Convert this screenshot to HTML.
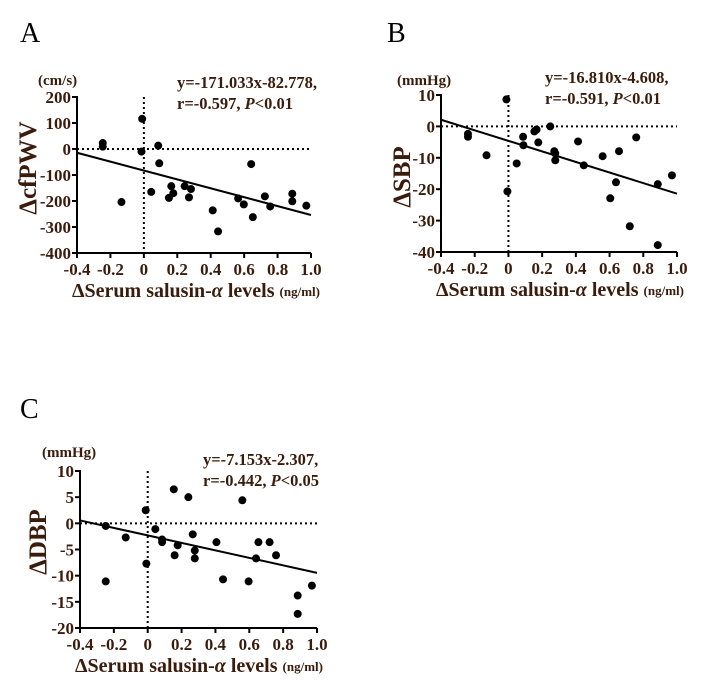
<!DOCTYPE html>
<html><head><meta charset="utf-8"><style>
body{margin:0;background:#fff;width:722px;height:692px;overflow:hidden}
svg text{font-family:"Liberation Serif",serif;font-weight:bold;fill:#3a1c0c}
</style></head><body>
<svg id="fig" width="722" height="692" xmlns="http://www.w3.org/2000/svg"></svg>
<script>
const xTicks=[-0.4,-0.2,0,0.2,0.4,0.6,0.8,1.0];
const xTickLabels=["-0.4","-0.2","0","0.2","0.4","0.6","0.8","1.0"];
const aX=[-0.246,-0.246,-0.01,-0.014,0.086,0.092,-0.134,0.044,0.164,0.176,0.15,0.244,0.282,0.27,0.412,0.444,0.564,0.598,0.642,0.652,0.724,0.756,0.888,0.888,0.972];
const aY=[23,9,116,-10,13,-55,-204,-165,-143,-170,-188,-143,-154,-186,-236,-317,-190,-213,-58,-262,-182,-221,-172,-201,-218];
const aTicks=[200,100,0,-100,-200,-300,-400];
const aFit=[-171.033,-82.778];
const bX=[-0.24,-0.24,-0.13,-0.012,-0.006,0.049,0.087,0.089,0.154,0.167,0.177,0.248,0.272,0.278,0.278,0.413,0.447,0.559,0.604,0.638,0.656,0.72,0.758,0.886,0.886,0.97];
const bY=[-2.4,-3.3,-9.2,8.6,-20.7,-11.8,-3.3,-6.0,-1.6,-1.0,-5.1,0,-7.9,-8.6,-10.8,-4.8,-12.4,-9.5,-22.9,-17.8,-7.9,-31.8,-3.5,-18.4,-37.8,-15.6];
const bTicks=[10,0,-10,-20,-30,-40];
const bFit=[-16.810,-4.608];
const cX=[-0.248,-0.248,-0.13,-0.012,-0.008,0.045,0.085,0.085,0.154,0.159,0.177,0.24,0.266,0.278,0.278,0.406,0.445,0.559,0.596,0.64,0.654,0.72,0.758,0.886,0.886,0.97];
const cY=[-0.5,-11.1,-2.7,2.5,-7.7,-1.1,-3.1,-3.6,6.5,-6.1,-4.2,5.0,-2.1,-5.2,-6.7,-3.6,-10.7,4.4,-11.1,-6.7,-3.6,-3.6,-6.1,-13.8,-17.3,-11.9];
const cTicks=[10,5,0,-5,-10,-15,-20];
const cFit=[-7.153,-2.307];

const svg=document.getElementById('fig');
const NS="http://www.w3.org/2000/svg";
function mk(tag,attrs,parent,txt){const e=document.createElementNS(NS,tag);for(const k in attrs)e.setAttribute(k,attrs[k]);if(txt!==undefined)e.textContent=txt;(parent||svg).appendChild(e);return e;}

function panel(p){
  const g=mk('g',{});
  
  
  const sx=v=>p.x0+(v-(-0.4))/1.4*(p.x1-p.x0);
  const ymin=p.ticks[p.ticks.length-1], ymax=p.ticks[0];
  const sy=v=>p.y1+(v-ymin)/(ymax-ymin)*(p.y0-p.y1);
  let t=mk('text',{x:p.lx,y:p.ly,'font-size':28,style:'font-weight:normal;fill:#000'},g,p.id);
  
  
  let z=mk('line',{x1:p.x0,x2:p.x1,y1:sy(0),y2:sy(0),stroke:'#000','stroke-width':2,'stroke-dasharray':'2,3'},g);
  
  
  z=mk('line',{x1:sx(0),x2:sx(0),y1:p.y0,y2:p.y1,stroke:'#000','stroke-width':2,'stroke-dasharray':'2,3'},g);
  
  
  let ax=mk('line',{x1:p.x0,x2:p.x0,y1:p.y0-1,y2:p.y1+1,stroke:'#000','stroke-width':2},g);
  
  
  ax=mk('line',{x1:p.x0-1,x2:p.x1,y1:p.y1,y2:p.y1,stroke:'#000','stroke-width':2},g);
  
  
  p.ticks.forEach(v=>{
    mk('line',{x1:p.x0-5,x2:p.x0,y1:sy(v),y2:sy(v),stroke:'#000','stroke-width':2},g);
    const tl=mk('text',{x:p.x0-6,y:sy(v)+6,'font-size':17,'text-anchor':'end'},g,String(v));
    
    
  });
  xTicks.forEach((v,i)=>{
    mk('line',{x1:sx(v),x2:sx(v),y1:p.y1,y2:p.y1+5,stroke:'#000','stroke-width':2},g);
    const tl=mk('text',{x:sx(v),y:p.y1+22,'font-size':17,'text-anchor':'middle'},g,xTickLabels[i]);
    
    
  });
  const f=mk('line',{x1:sx(-0.4),y1:sy(p.fit[0]*-0.4+p.fit[1]),x2:sx(1.0),y2:sy(p.fit[0]*1.0+p.fit[1]),stroke:'#000','stroke-width':2},g);
  
  
  p.xs.forEach((v,i)=>{
    const c=mk('circle',{cx:sx(v),cy:sy(p.ys[i]),r:4,fill:'#000'},g);
    
    
  });
  t=mk('text',{x:p.ux,y:p.uy,'font-size':15},g,p.unit);
  
  
  t=mk('text',{x:p.ex,y:p.ey,'font-size':16.5},g,p.eq);
  
  
  t=mk('text',{x:p.ex,y:p.ey+21,'font-size':16.5},g);
  
  
  t.innerHTML=p.r+', <tspan font-style="italic">P</tspan>'+p.pv;
  t=mk('text',{x:0,y:0,'font-size':25,'text-anchor':'middle',transform:`translate(${p.tx},${p.ty}) rotate(-90)`},g,p.ytitle);
  
  
  t=mk('text',{x:p.x0-5,y:p.y1+44,'font-size':20},g);
  
  
  t.innerHTML='ΔSerum  salusin-<tspan font-style="italic">α</tspan>  levels <tspan font-size="13" dy="-1">(ng/ml)</tspan>';
}
panel({id:'A',x0:77,x1:311,y0:97,y1:253,ticks:aTicks,xs:aX,ys:aY,fit:aFit,lx:20,ly:42,ux:38,uy:85,unit:'(cm/s)',ex:177,ey:88,eq:'y=-171.033x-82.778,',r:'r=-0.597',pv:'<0.01',tx:36,ty:168,ytitle:'ΔcfPWV'});
panel({id:'B',x0:441,x1:677,y0:95,y1:252,ticks:bTicks,xs:bX,ys:bY,fit:bFit,lx:387,ly:42,ux:397,uy:85,unit:'(mmHg)',ex:545,ey:83,eq:'y=-16.810x-4.608,',r:'r=-0.591',pv:'<0.01',tx:410,ty:177,ytitle:'ΔSBP'});
panel({id:'C',x0:80,x1:317,y0:471,y1:628,ticks:cTicks,xs:cX,ys:cY,fit:cFit,lx:20,ly:418,ux:42,uy:457,unit:'(mmHg)',ex:203,ey:465,eq:'y=-7.153x-2.307,',r:'r=-0.442',pv:'<0.05',tx:46,ty:542,ytitle:'ΔDBP'});
</script>
</body></html>
